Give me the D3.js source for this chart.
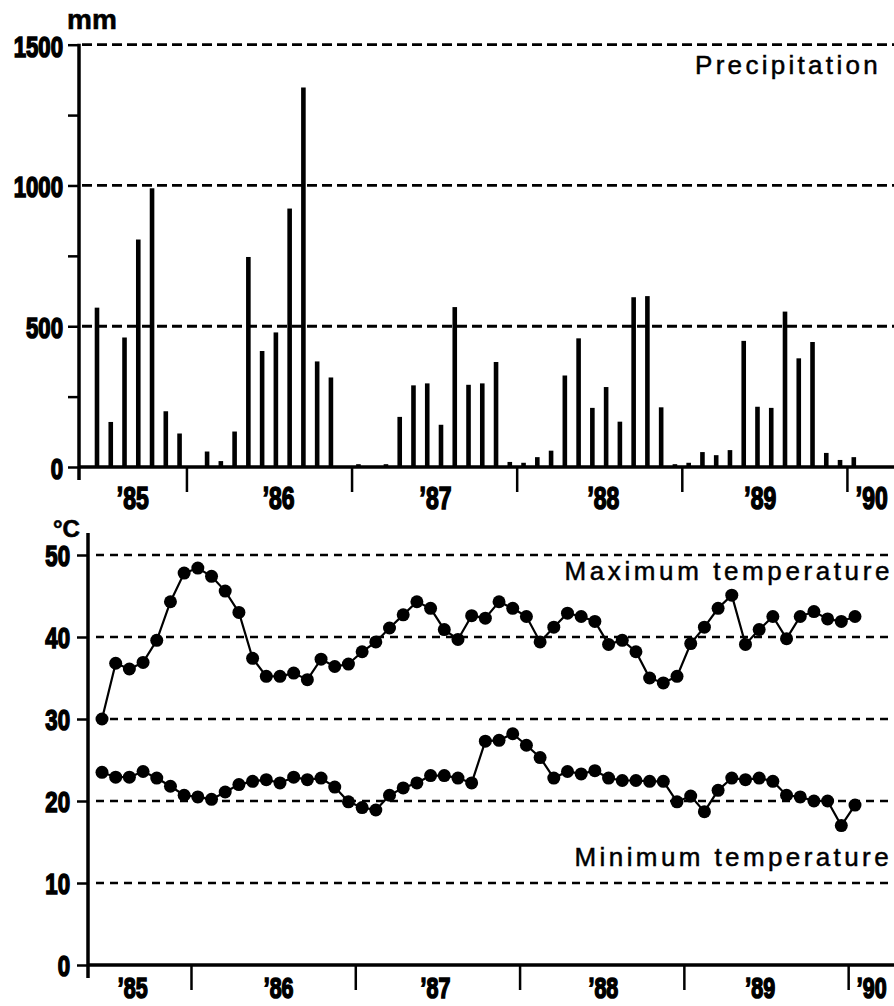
<html>
<head>
  <style>
  body { margin: 0; background: #fff; }
  svg { display: block; }
  .num { font-family: "Liberation Sans", Arial, sans-serif; font-weight: bold; fill: #000; stroke: #000; stroke-width: 1.6; }
  .lbl { font-family: "Liberation Sans", Arial, sans-serif; font-size: 26px; fill: #000; stroke: #000; stroke-width: 0.5; }
  .tk line { stroke: #000; stroke-width: 2.5; }
  .tk path { display: none; }
  </style>
  <script src="https://d3js.org/d3.v7.min.js"></script>
</head>
<body>
  <svg id="chart"></svg>
</body>
  <script>

  // monthly values, 56 months starting mid '85 season
  var precip = [566, 160, 460, 808, 990, 198, 119, 0, 55, 21, 126, 746, 412, 478, 918, 1348,
                375, 318, 0, 10, 0, 10, 178, 290, 297, 150, 568, 292, 297, 373, 18, 15,
                35, 58, 325, 457, 210, 284, 161, 603, 607, 212, 10, 15, 53, 42, 60, 448,
                214, 210, 552, 386, 444, 50, 25, 35];

  var tmax = [30.0, 36.8, 36.1, 36.9, 39.6, 44.3, 47.8, 48.4, 47.4, 45.6, 43.0, 37.4, 35.2, 35.2,
              35.6, 34.8, 37.3, 36.4, 36.7, 38.2, 39.4, 41.1, 42.7, 44.3, 43.5, 40.9, 39.7, 42.6,
              42.3, 44.3, 43.5, 42.5, 39.4, 41.2, 42.9, 42.5, 41.9, 39.1, 39.6, 38.2, 35.0, 34.4,
              35.2, 39.2, 41.2, 43.5, 45.1, 39.1, 40.9, 42.5, 39.8, 42.5, 43.1, 42.2, 41.9, 42.5];

  var tmin = [23.5, 22.9, 22.9, 23.6, 22.8, 21.8, 20.7, 20.5, 20.2, 21.1, 22.0, 22.4, 22.6, 22.2,
              22.9, 22.6, 22.8, 21.7, 19.9, 19.2, 18.9, 20.7, 21.6, 22.2, 23.1, 23.1, 22.8, 22.2,
              27.3, 27.4, 28.2, 26.8, 25.3, 22.8, 23.6, 23.3, 23.7, 22.8, 22.5, 22.5, 22.4, 22.4,
              19.9, 20.6, 18.7, 21.3, 22.8, 22.6, 22.8, 22.4, 20.7, 20.5, 20.0, 20.0, 17.0, 19.5];

  var yearLabels = ["\u201985", "\u201986", "\u201987", "\u201988", "\u201989", "\u201990"];
  var yearLabelMonth = [2.6, 13.2, 24.6, 36.8, 48.2, 56.3];
  var yearBreaks = [6.5, 18.5, 30.5, 42.5, 54.5];

  var precipTicks = [0, 500, 1000, 1500];
  var precipMinor = [250, 750, 1250];
  var precipGrid = [500, 1000, 1500];
  var tempTicks = [0, 10, 20, 30, 40, 50];
  var tempGrid = [10, 20, 30, 40, 50];

  var width = 894,
      height = 1006;

  var svg = d3.select("#chart")
      .attr("width", width)
      .attr("height", height);

  // narrow heavy digits: bold face squeezed horizontally
  function numText(g, x, y, txt, anchor, size) {
    g.append("text")
        .attr("class", "num")
        .attr("transform", "translate(" + x + "," + y + ") scale(0.74,1)")
        .attr("text-anchor", anchor)
        .style("font-size", size + "px")
        .text(txt);
  }

  // ---------- precipitation ----------
  var xP = d3.scaleLinear().domain([0, 55]).range([97, 853.8]);
  var yP = d3.scaleLinear().domain([0, 1500]).range([467, 44.7]);

  var gp = svg.append("g");

  gp.selectAll(".pgrid")
      .data(precipGrid)
    .enter().append("line")
      .attr("x1", 82).attr("x2", width)
      .attr("y1", function(d) { return yP(d); })
      .attr("y2", function(d) { return yP(d); })
      .attr("stroke", "#000")
      .attr("stroke-width", 2.8)
      .attr("stroke-dasharray", "10,5");

  gp.selectAll(".bar")
      .data(precip)
    .enter().append("rect")
      .attr("x", function(d, i) { return xP(i) - 2.3; })
      .attr("y", function(d) { return yP(d); })
      .attr("width", 4.6)
      .attr("height", function(d) { return yP(0) - yP(d); })
      .attr("fill", "#000");

  gp.append("g")
      .attr("class", "tk")
      .attr("transform", "translate(79,0)")
      .call(d3.axisLeft(yP).tickValues(precipTicks.concat(precipMinor)).tickSize(11).tickFormat(""));

  gp.append("g")
      .attr("class", "tk")
      .attr("transform", "translate(0," + yP(0) + ")")
      .call(d3.axisBottom(xP).tickValues(yearBreaks).tickSize(25).tickFormat(""));

  gp.append("line")
      .attr("x1", 79).attr("x2", 79)
      .attr("y1", yP(1500) - 1).attr("y2", yP(0) + 13)
      .attr("stroke", "#000").attr("stroke-width", 3.5);
  gp.append("line")
      .attr("x1", 79).attr("x2", width)
      .attr("y1", yP(0)).attr("y2", yP(0))
      .attr("stroke", "#000").attr("stroke-width", 3.5);

  precipTicks.forEach(function(v) { numText(gp, 63, yP(v) + 12, v, "end", 30); });
  yearLabels.forEach(function(t, i) { numText(gp, xP(yearLabelMonth[i]), 509, t, "middle", 31); });

  gp.append("text")
      .attr("class", "num")
      .attr("x", 67).attr("y", 29)
      .style("font-size", "28px")
      .style("stroke-width", "0.6")
      .text("mm");

  gp.append("text")
      .attr("class", "lbl")
      .attr("x", 881).attr("y", 74)
      .attr("text-anchor", "end")
      .style("letter-spacing", "3.3px")
      .text("Precipitation");

  // ---------- temperature ----------
  var xT = d3.scaleLinear().domain([0, 55]).range([102, 855]);
  var yT = d3.scaleLinear().domain([0, 50]).range([965, 555]);

  var gt = svg.append("g");

  gt.selectAll(".tgrid")
      .data(tempGrid)
    .enter().append("line")
      .attr("x1", 96).attr("x2", width)
      .attr("y1", function(d) { return yT(d); })
      .attr("y2", function(d) { return yT(d); })
      .attr("stroke", "#000")
      .attr("stroke-width", 2.5)
      .attr("stroke-dasharray", "8,6");

  gt.append("g")
      .attr("class", "tk")
      .attr("transform", "translate(88,0)")
      .call(d3.axisLeft(yT).tickValues(tempTicks).tickSize(11).tickFormat(""));

  gt.append("g")
      .attr("class", "tk")
      .attr("transform", "translate(0," + yT(0) + ")")
      .call(d3.axisBottom(xT).tickValues(yearBreaks).tickSize(25).tickFormat(""));

  gt.append("line")
      .attr("x1", 88).attr("x2", 88)
      .attr("y1", 533).attr("y2", yT(0) + 13)
      .attr("stroke", "#000").attr("stroke-width", 3.5);
  gt.append("line")
      .attr("x1", 88).attr("x2", width)
      .attr("y1", yT(0)).attr("y2", yT(0))
      .attr("stroke", "#000").attr("stroke-width", 3.5);

  var line = d3.line()
      .x(function(d, i) { return xT(i); })
      .y(function(d) { return yT(d); });

  [tmax, tmin].forEach(function(series) {
    gt.append("path")
        .attr("d", line(series))
        .attr("fill", "none")
        .attr("stroke", "#000")
        .attr("stroke-width", 2.2);
    gt.selectAll(null)
        .data(series)
      .enter().append("circle")
        .attr("cx", function(d, i) { return xT(i); })
        .attr("cy", function(d) { return yT(d); })
        .attr("r", 6.5)
        .attr("fill", "#000");
  });

  tempTicks.forEach(function(v) { numText(gt, 70, yT(v) + 11, v, "end", 30); });
  yearLabels.forEach(function(t, i) { numText(gt, xP(yearLabelMonth[i]), 998, t, "middle", 29); });

  gt.append("text")
      .attr("class", "num")
      .attr("x", 53).attr("y", 537)
      .style("font-size", "24px")
      .style("stroke-width", "0.6")
      .text("\u00b0C");

  gt.append("text")
      .attr("class", "lbl")
      .attr("x", 893).attr("y", 580)
      .attr("text-anchor", "end")
      .style("letter-spacing", "3.6px")
      .text("Maximum temperature");

  gt.append("text")
      .attr("class", "lbl")
      .attr("x", 892).attr("y", 866)
      .attr("text-anchor", "end")
      .style("letter-spacing", "3.4px")
      .text("Minimum temperature");

  </script>
</html>
